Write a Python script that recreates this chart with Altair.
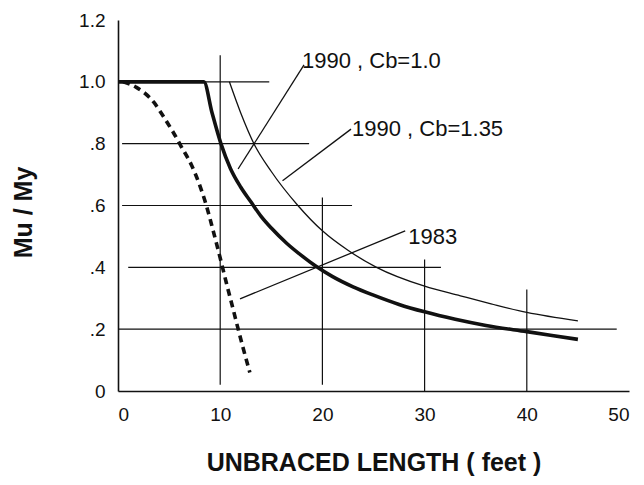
import altair as alt
import pandas as pd

# ---- data ----
# 1990 specification, Cb = 1.0 (heavy solid curve)
cb10_x = [0, 8.4, 9.2, 10.07, 11.0, 12.0, 13.0, 14.0, 15.0, 16.5, 18.0, 19.3, 21.0, 23.0, 25.0, 27.5, 30.0, 33.0, 36.0, 40.0, 45.0]
cb10_y = [1.0, 1.0, 0.90, 0.80, 0.72, 0.66, 0.612, 0.565, 0.527, 0.478, 0.437, 0.405, 0.37, 0.337, 0.31, 0.28, 0.256, 0.232, 0.212, 0.192, 0.167]
# 1990 specification, Cb = 1.35 (light solid curve)
cb135_x = [10.9, 12.0, 13.3, 15.0, 17.6, 20.0, 22.5, 25.3, 30.0, 33.5, 36.5, 40.0, 45.0]
cb135_y = [1.0, 0.90, 0.80, 0.71, 0.60, 0.518, 0.455, 0.40, 0.339, 0.308, 0.282, 0.254, 0.227]
# 1983 specification (dashed curve)
s1983_x = [0.5, 1.8, 3.5, 4.5, 5.4, 6.2, 7.2, 8.0, 8.6, 9.3, 10.0, 10.6, 11.3, 11.76, 12.25, 12.9]
s1983_y = [1.0, 0.982, 0.934, 0.885, 0.837, 0.79, 0.73, 0.665, 0.605, 0.52, 0.43, 0.35, 0.26, 0.2, 0.138, 0.06]

# partial grid lines of the original drawing
hgrid_y = [1.0, 0.8, 0.6, 0.4, 0.2]
hgrid_x0 = [0.0, 0.4, 0.4, 1.0, 0.0]
hgrid_x1 = [14.8, 18.7, 22.9, 31.6, 48.8]
vgrid_x = [10, 20, 30, 40]
vgrid_y0 = [0.02, 0.02, 0.0, 0.0]
vgrid_y1 = [1.086, 0.626, 0.425, 0.328]

# axis ticks
x_ticks = [0, 10, 20, 30, 40, 50]
y_ticks = [0, 0.2, 0.4, 0.6, 0.8, 1.0, 1.2]

# curve labels and leader lines
labels = ["1990 , Cb=1.0", "1990 , Cb=1.35", "1983"]
label_x = [18.0, 22.9, 28.4]
label_y = [1.068, 0.848, 0.497]
leader_x0 = [18.2, 22.8, 28.1]
leader_y0 = [1.055, 0.847, 0.518]
leader_x1 = [11.75, 16.1, 11.94]
leader_y1 = [0.718, 0.68, 0.298]

# ---- tables ----
curves = pd.concat([
    pd.DataFrame({"x": cb10_x, "y": cb10_y, "s": "cb10"}),
    pd.DataFrame({"x": cb135_x, "y": cb135_y, "s": "cb135"}),
    pd.DataFrame({"x": s1983_x, "y": s1983_y, "s": "s1983"}),
])
hgrid = pd.DataFrame({"x": hgrid_x0, "x2": hgrid_x1, "y": hgrid_y})
vgrid = pd.DataFrame({"x": vgrid_x, "y": vgrid_y0, "y2": vgrid_y1})
lab = pd.DataFrame({"x": label_x, "y": label_y, "t": labels})
lead = pd.DataFrame({"x": leader_x0, "y": leader_y0, "x2": leader_x1, "y2": leader_y1})

FONT = "Liberation Sans"
INK = "#111111"

xs = alt.Scale(domain=[0, 50], nice=False, zero=False)
ys = alt.Scale(domain=[0, 1.2], nice=False, zero=False)

X = alt.X("x:Q", scale=xs, axis=alt.Axis(
    values=x_ticks, title="UNBRACED LENGTH ( feet )", labelPadding=14,
    titleY=79, titleBaseline="alphabetic"))
Y = alt.Y("y:Q", scale=ys, axis=alt.Axis(
    values=y_ticks, title="Mu  /  My", labelPadding=13,
    labelExpr="datum.value == 0 ? '0' : (datum.value < 1 ? replace(format(datum.value, '.1f'), '0.', '.') : format(datum.value, '.1f'))",
    titleX=-95, titleY=192, titleAlign="center", titleBaseline="middle"))

grid_h = alt.Chart(hgrid).mark_rule(color=INK, strokeWidth=1.2).encode(x=X, x2="x2:Q", y=Y)
grid_v = alt.Chart(vgrid).mark_rule(color=INK, strokeWidth=1.2).encode(x=X, y=Y, y2="y2:Q")

thick = alt.Chart(curves[curves.s == "cb10"]).mark_line(
    color=INK, strokeWidth=3.6, interpolate="monotone").encode(x=X, y=Y)
thin = alt.Chart(curves[curves.s == "cb135"]).mark_line(
    color=INK, strokeWidth=1.3, interpolate="monotone").encode(x=X, y=Y)
dashed = alt.Chart(curves[curves.s == "s1983"]).mark_line(
    color=INK, strokeWidth=3.6, strokeDash=[7, 5], interpolate="monotone").encode(x=X, y=Y)

leaders = alt.Chart(lead).mark_rule(color=INK, strokeWidth=1.3).encode(
    x=X, y=Y, x2="x2:Q", y2="y2:Q")
texts = alt.Chart(lab).mark_text(
    align="left", baseline="middle", font=FONT, fontSize=22, color=INK
).encode(x=X, y=Y, text="t:N")

chart = alt.layer(grid_h, grid_v, thin, thick, dashed, leaders, texts).properties(
    width=511, height=371,
    background="white",
    autosize=alt.AutoSizeParams(type="none"),
    padding={"left": 110, "top": 12, "right": 7, "bottom": 86},
).configure_view(stroke=None).configure_axis(
    grid=False, ticks=False, domainColor=INK, domainWidth=1.6,
    labelFont=FONT, labelFontSize=19, labelColor=INK,
    titleFont=FONT, titleFontSize=25, titleFontWeight="bold", titleColor=INK,
)

chart.save("out.html", embed_options={"renderer": "svg", "actions": False})
